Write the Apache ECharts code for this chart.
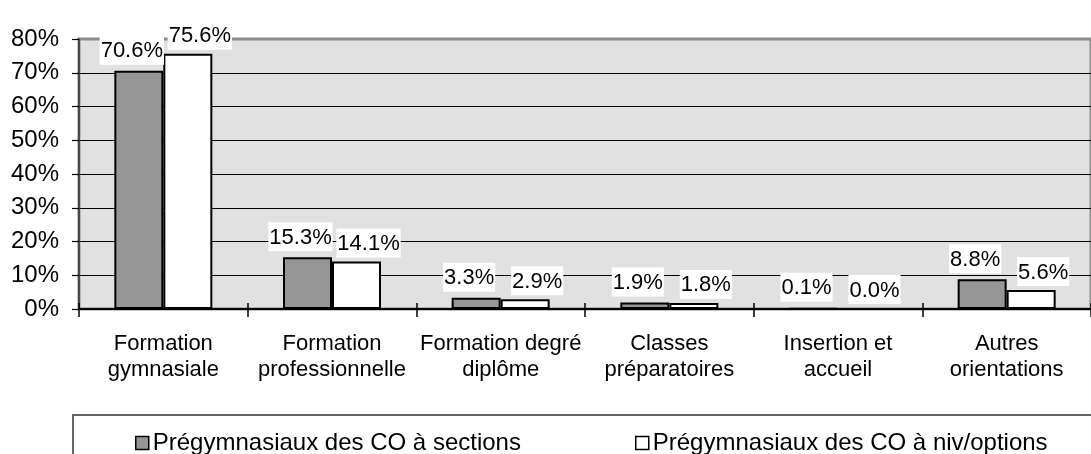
<!DOCTYPE html>
<html>
<head>
<meta charset="utf-8">
<script src="https://cdn.jsdelivr.net/npm/echarts@6/dist/echarts.min.js"></script>
<style>
html,body{margin:0;padding:0;background:#fff;}
#chart{width:1091px;height:454px;}
</style>
</head>
<body>
<div id="chart"></div>
<script>
const categories = [
  'Formation\ngymnasiale',
  'Formation\nprofessionnelle',
  'Formation degré\ndiplôme',
  'Classes\npréparatoires',
  'Insertion et\naccueil',
  'Autres\norientations'
];
const seriesNames = ['Prégymnasiaux des CO à sections', 'Prégymnasiaux des CO à niv/options'];
const sectionsValues = [70.6, 15.3, 3.3, 1.9, 0.1, 8.8];
const optionsValues = [75.6, 14.1, 2.9, 1.8, 0.0, 5.6];
const yTicks = { min: 0, max: 80, interval: 10 };

const FONT = "'Liberation Sans', Arial, sans-serif";
const chart = echarts.init(document.getElementById('chart'), null, { renderer: 'canvas' });

function labelCfg(dx, dist) {
  return {
    show: true,
    position: 'top',
    distance: dist,
    offset: [dx, 0],
    formatter: p => p.value.toFixed(1) + '%',
    fontFamily: FONT,
    fontSize: 22,
    color: '#000',
    backgroundColor: '#fff',
    padding: [3, 1, 1, 1],
    lineHeight: 25
  };
}

chart.setOption({
  animation: false,
  backgroundColor: '#fff',
  textStyle: { fontFamily: FONT },
  grid: {
    left: 79, top: 39, width: 1026, height: 270,
    show: true, backgroundColor: '#e1e1e1', borderColor: '#8c8c8c', borderWidth: 3
  },
  xAxis: [{
    type: 'category',
    data: categories,
    axisLine: { lineStyle: { color: '#000', width: 2 } },
    axisTick: { show: true, length: 8, lineStyle: { color: '#000', width: 1.5 } },
    axisLabel: { fontFamily: FONT, fontSize: 22, color: '#000', margin: 22, lineHeight: 26, interval: 0 },
    splitLine: { show: false }
  }, {
    type: 'category',
    data: categories,
    position: 'bottom',
    axisLine: { show: false },
    axisTick: { show: true, inside: true, length: 6, lineStyle: { color: '#000', width: 1.5 } },
    axisLabel: { show: false },
    splitLine: { show: false }
  }],
  yAxis: {
    type: 'value',
    min: yTicks.min, max: yTicks.max, interval: yTicks.interval,
    axisLine: { show: true, lineStyle: { color: '#333', width: 1.5 } },
    axisTick: { show: true, length: 7, lineStyle: { color: '#000', width: 1.2 } },
    axisLabel: { formatter: '{value}%', fontFamily: FONT, fontSize: 24, color: '#000', margin: 20 },
    splitLine: { show: true, lineStyle: { color: ['#000','#000','#000','#000','#000','#000','#000','#000','#8c8c8c'], width: 1.2 } }
  },
  legend: [{
    data: [seriesNames[0]],
    left: 130, top: 426,
    itemWidth: 13, itemHeight: 13, itemGap: 0,
    icon: 'rect',
    textStyle: { fontFamily: FONT, fontSize: 24, color: '#000', padding: [0, 0, 0, -1] },
    itemStyle: { color: '#969696', borderColor: '#000', borderWidth: 1.5 }
  }, {
    data: [seriesNames[1]],
    left: 630, top: 426,
    itemWidth: 13, itemHeight: 13, itemGap: 0,
    icon: 'rect',
    textStyle: { fontFamily: FONT, fontSize: 24, color: '#000', padding: [0, 0, 0, -1] },
    itemStyle: { color: '#fff', borderColor: '#000', borderWidth: 1.5 }
  }],
  graphic: [{
    type: 'rect',
    shape: { x: 73, y: 415, width: 1100, height: 100 },
    style: { fill: 'none', stroke: '#666', lineWidth: 2 },
    silent: true
  }],
  series: [{
    name: seriesNames[0],
    type: 'bar',
    data: sectionsValues,
    barWidth: 49,
    barGap: '0%',
    itemStyle: { color: '#969696', borderColor: '#000', borderWidth: 2 },
    label: labelCfg(-7, 6)
  }, {
    name: seriesNames[1],
    type: 'bar',
    data: optionsValues,
    barWidth: 49,
    barGap: '0%',
    itemStyle: { color: '#fff', borderColor: '#000', borderWidth: 2 },
    label: labelCfg(12, 4)
  }]
});
</script>
</body>
</html>
